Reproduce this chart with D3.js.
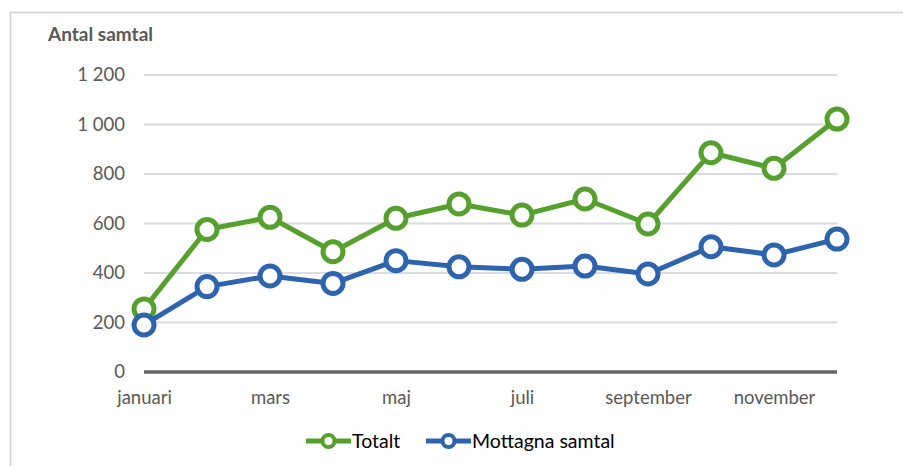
<!DOCTYPE html>
<html><head><meta charset="utf-8">
<script src="https://cdn.jsdelivr.net/npm/d3@7"></script>
<style>body{margin:0;background:#fff;} svg{display:block;}</style>
</head><body>
<svg id="c" width="903" height="466"></svg>
<script>
const months = ["januari","februari","mars","april","maj","juni","juli","augusti","september","oktober","november","december"];
const totalt = [255, 576, 625, 486, 621, 679, 634, 699, 598, 886, 823, 1022];
const mottagna = [190, 345, 388, 358, 450, 425, 415, 428, 396, 506, 473, 537];
const yTicks = [0, 200, 400, 600, 800, 1000, 1200];
const xLabelMonths = ["januari","mars","maj","juli","september","november"];
const seriesNames = ["Totalt", "Mottagna samtal"];
const seriesColors = ["#56A02E", "#2E63AE"];

const svg = d3.select("#c");
const font = "Lato, 'Open Sans', sans-serif";
svg.append("rect").attr("x",10.5).attr("y",12.5).attr("width",1000).attr("height",1000)
  .attr("fill","#fff").attr("stroke","#d0d0d0").attr("stroke-width",1.5);

const x = d3.scalePoint().domain(months).range([144, 837]);
const y = d3.scaleLinear().domain([0, 1200]).range([372, 75]);

// gridlines
svg.append("g").selectAll("line").data(yTicks.filter(d=>d>0)).join("line")
  .attr("x1",144).attr("x2",837).attr("y1",d=>y(d)).attr("y2",d=>y(d))
  .attr("stroke","#d9dce1").attr("stroke-width",2);

// y axis labels
const yAxis = d3.axisLeft(y).tickValues(yTicks).tickSize(0).tickPadding(0)
  .tickFormat(d => d3.format(",")(d).replace(/,/g, "\u00a0"));
const yg = svg.append("g").attr("transform","translate(125,0)").call(yAxis);
yg.select(".domain").remove();
yg.selectAll("text").attr("font-family",font).attr("font-size",18.5).attr("fill","#595959");

// x axis line
svg.append("line").attr("x1",144).attr("x2",837).attr("y1",y(0)).attr("y2",y(0))
  .attr("stroke","#666").attr("stroke-width",3.5);

const xAxis = d3.axisBottom(x).tickValues(xLabelMonths).tickSize(0).tickPadding(0);
const xg = svg.append("g").attr("transform","translate(0,391)").call(xAxis);
xg.select(".domain").remove();
xg.selectAll("text").attr("font-family",font).attr("font-size",18.5).attr("fill","#595959").attr("dy","0.71em");

// axis title
svg.append("text").attr("x",48).attr("y",41).text("Antal samtal")
  .attr("font-family",font).attr("font-weight","bold").attr("font-size",19).attr("fill","#595959");

const line = d3.line().x((d,i)=>x(months[i])).y(d=>y(d));
[totalt, mottagna].forEach((data, k) => {
  const g = svg.append("g");
  g.append("path").datum(data).attr("d", line).attr("fill","none")
    .attr("stroke", seriesColors[k]).attr("stroke-width",5).attr("stroke-linejoin","round");
  g.selectAll("circle").data(data).join("circle")
    .attr("cx",(d,i)=>x(months[i])).attr("cy",d=>y(d)).attr("r",10)
    .attr("fill","#fff").attr("stroke",seriesColors[k]).attr("stroke-width",5);
});

// legend
const legend = [{x0:306, tx:352},{x0:426, tx:472}];
seriesNames.forEach((name,k)=>{
  const lg = svg.append("g");
  const lx = legend[k].x0, ly = 441;
  lg.append("line").attr("x1",lx).attr("x2",lx+45).attr("y1",ly).attr("y2",ly)
    .attr("stroke",seriesColors[k]).attr("stroke-width",5);
  lg.append("circle").attr("cx",lx+22.5).attr("cy",ly).attr("r",6)
    .attr("fill","#fff").attr("stroke",seriesColors[k]).attr("stroke-width",4);
  lg.append("text").attr("x",legend[k].tx).attr("y",ly).attr("dy","0.36em").text(name)
    .attr("font-family",font).attr("font-size",19.5).attr("fill","#000");
});
</script>
</body></html>
